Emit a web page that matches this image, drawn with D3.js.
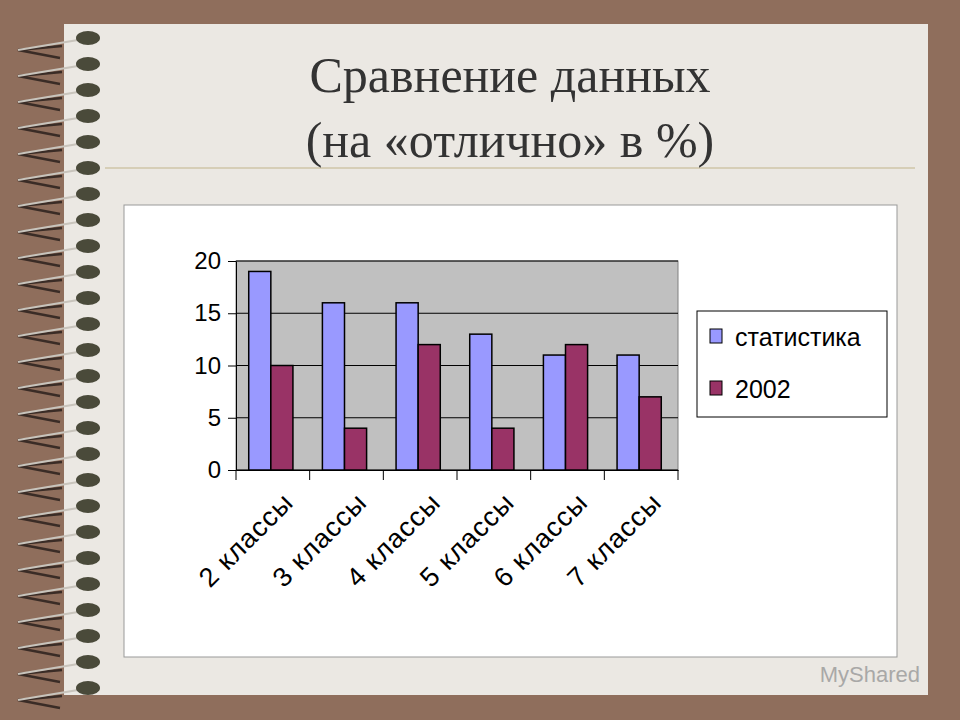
<!DOCTYPE html>
<html><head><meta charset="utf-8"><script src="https://cdn.jsdelivr.net/npm/d3@7"></script>
<style>body{margin:0;background:#8f6e5c}</style></head><body>
<script>
const categories=["2 классы","3 классы","4 классы","5 классы","6 классы","7 классы"];
const seriesNames=["статистика","2002"];
const statValues=[19,16,16,13,11,11];
const y2002Values=[10,4,12,4,12,7];
const yTicks=[0,5,10,15,20];
const colors=["#9999ff","#993366"];

const svg=d3.select("body").append("svg").attr("width",960).attr("height",720);
svg.append("rect").attr("width",960).attr("height",720).attr("fill","#8f6e5c");
svg.append("rect").attr("x",64).attr("y",24).attr("width",864).attr("height",671).attr("fill","#ebe8e3");
for(let y=36;y<690;y+=26){
  const g=svg.append("g");
  g.append("path").attr("d",`M62,${y+10} L18,${y+14} L60,${y+22}`).attr("stroke","#3a2c26").attr("stroke-width",2.5).attr("fill","none");
  g.append("path").attr("d",`M18,${y+14} L78,${y+4}`).attr("stroke","#c8c4bc").attr("stroke-width",2).attr("fill","none");
  g.append("ellipse").attr("cx",88).attr("cy",y+2).attr("rx",12).attr("ry",7).attr("fill","#4a4a3a");
}
svg.append("line").attr("x1",105).attr("x2",915).attr("y1",168).attr("y2",168).attr("stroke","#cfc6a8").attr("stroke-width",1.5);
svg.append("text").attr("x",510).attr("y",92).attr("text-anchor","middle").attr("font-family","Liberation Serif").attr("font-size",50).attr("fill","#333").text("Сравнение данных");
svg.append("text").attr("x",510).attr("y",157).attr("text-anchor","middle").attr("font-family","Liberation Serif").attr("font-size",50).attr("fill","#333").text("(на «отлично» в %)");

svg.append("rect").attr("x",124).attr("y",205).attr("width",773).attr("height",452).attr("fill","#fff").attr("stroke","#999");
const x=d3.scaleBand().domain(categories).range([236,678]).paddingInner(0.4).paddingOuter(0.2);
const xc=d3.scaleBand().domain(categories).range([236,678]);
const y=d3.scaleLinear().domain([0,20]).range([470,261]);
svg.append("rect").attr("x",236).attr("y",261).attr("width",442).attr("height",209).attr("fill","#c0c0c0").attr("stroke","#808080");
yTicks.forEach(t=>{svg.append("line").attr("x1",236).attr("x2",678).attr("y1",y(t)).attr("y2",y(t)).attr("stroke","#000");});
const sub=d3.scaleBand().domain([0,1]).range([0,x.bandwidth()]);
[statValues,y2002Values].forEach((vals,si)=>{
  svg.selectAll(null).data(vals).enter().append("rect")
   .attr("x",(d,i)=>x(categories[i])+sub(si)-2).attr("y",d=>y(d)).attr("width",sub.bandwidth()).attr("height",d=>470-y(d))
   .attr("fill",colors[si]).attr("stroke","#000").attr("stroke-width",1.5);
});
const ya=svg.append("g").attr("transform","translate(236,0)").call(d3.axisLeft(y).tickValues(yTicks).tickSize(8).tickSizeOuter(0));
ya.select(".domain").attr("stroke","#000");
ya.selectAll("text").attr("font-family","Liberation Sans").attr("font-size",24).attr("fill","#000").attr("dx",-4);
const xa=svg.append("g").attr("transform","translate(0,470)").call(d3.axisBottom(xc).tickValues([]).tickSizeOuter(0));
xa.select(".domain").attr("stroke","#000");
xc.domain().concat(["end"]).forEach((c,i)=>{const xx=236+i*xc.step();svg.append("line").attr("x1",xx).attr("x2",xx).attr("y1",470).attr("y2",480).attr("stroke","#000");});
categories.forEach(c=>{
  const cx=xc(c)+xc.bandwidth()/2+22;
  svg.append("text").attr("transform",`translate(${cx},504) rotate(-45)`).attr("text-anchor","end")
   .attr("font-family","Liberation Sans").attr("font-size",27).attr("letter-spacing",1).attr("fill","#000").text(c);
});
svg.append("rect").attr("x",697).attr("y",311).attr("width",190).attr("height",106).attr("fill","#fff").attr("stroke","#000");
seriesNames.forEach((n,i)=>{
  svg.append("rect").attr("x",710).attr("y",329+i*52).attr("width",12).attr("height",14).attr("fill",colors[i]).attr("stroke","#000");
  svg.append("text").attr("x",735).attr("y",346+i*52).attr("font-family","Liberation Sans").attr("font-size",25).text(n);
});
svg.append("text").attr("x",920).attr("y",682).attr("text-anchor","end").attr("font-family","Liberation Sans").attr("font-size",22).attr("fill","#999").attr("opacity",0.8).text("MyShared");
</script></body></html>
